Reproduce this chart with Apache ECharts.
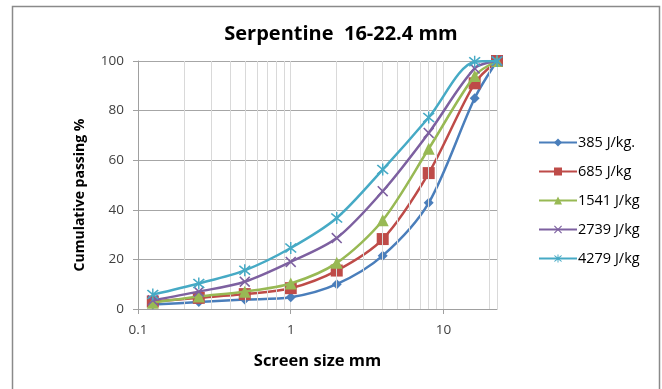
<!DOCTYPE html>
<html><head><meta charset="utf-8">
<script src="https://cdn.jsdelivr.net/npm/echarts@6/dist/echarts.min.js"></script>
<style>html,body{margin:0;padding:0;background:#fff}#c{width:662px;height:389px}</style>
</head><body><div id="c"></div>
<script>
const sizes = [0.125, 0.25, 0.5, 1, 2, 4, 8, 16, 22.4];
const seriesNames = ['385 J/kg.', '685 J/kg', '1541 J/kg', '2739 J/kg', '4279 J/kg'];
const s385 = [1.8, 2.8, 3.8, 4.7, 10, 21.5, 42.8, 85, 100];
const s685 = [3, 4.5, 6, 8.4, 15.5, 28.2, 54.8, 91, 100];
const s1541 = [2.5, 5, 7, 10.3, 18.6, 35.8, 64.6, 94, 100];
const s2739 = [3.5, 7, 11, 19, 28.6, 47.5, 71, 97, 100];
const s4279 = [5.8, 10.3, 15.6, 24.6, 36.7, 56.2, 77.2, 99.7, 100];
const xTicks = [0.1, 1, 10];
const yTicks = [0, 20, 40, 60, 80, 100];
const minorGrid = [0.2, 0.3, 0.4, 0.5, 0.6, 0.7, 0.8, 0.9, 2, 3, 4, 5, 6, 7, 8, 9, 20];

const colors = ['#4A7EBB', '#BE4B48', '#98B954', '#7D60A0', '#46AAC5'];
const crossPath = 'path://M0,1 L1,0 L5,4 L9,0 L10,1 L6,5 L10,9 L9,10 L5,6 L1,10 L0,9 L4,5 Z';
const starPath = 'path://M0,1 L1,0 L5,4 L9,0 L10,1 L6,5 L10,9 L9,10 L5,6 L1,10 L0,9 L4,5 Z M4.4,-1 L5.6,-1 L5.6,11 L4.4,11 Z';
const symbols = ['diamond', 'rect', 'triangle', crossPath, starPath];
const symSizes = [10, 12, 12, 11, 12];
const allData = [s385, s685, s1541, s2739, s4279];

const font = '"Open Sans", Lato, sans-serif';
const series = allData.map((vals, i) => ({
  name: seriesNames[i],
  type: 'line',
  data: vals.map((v, j) => [sizes[j], v]),
  smooth: 0.3,
  symbol: symbols[i],
  symbolSize: symSizes[i],
  showAllSymbol: true,
  lineStyle: { color: colors[i], width: 2.5 },
  itemStyle: { color: colors[i] },
  z: 3 + i
}));
series.unshift({
  type: 'line', data: [], silent: true, z: 1,
  markLine: {
    silent: true, symbol: 'none', label: { show: false },
    lineStyle: { color: '#d9d9d9', width: 1, type: 'solid' },
    data: minorGrid.map(v => ({ xAxis: v }))
  }
});

const chart = echarts.init(document.getElementById('c'), null, { renderer: 'canvas' });
chart.setOption({
  animation: false,
  backgroundColor: '#fff',
  title: {
    text: 'Serpentine  16-22.4 mm', left: 336, top: 19, textAlign: 'center',
    textStyle: { fontFamily: font, fontSize: 20, fontWeight: 'bold', color: '#000' }
  },
  graphic: [{
    type: 'rect', shape: { x: 12.5, y: 6.5, width: 647, height: 400 },
    style: { fill: 'none', stroke: '#8a8a8a', lineWidth: 1.5 }, silent: true
  }, {
    type: 'text', x: 80, y: 195, rotation: Math.PI / 2, silent: true,
    style: { text: 'Cumulative passing %', fontFamily: font, fontSize: 14, fontWeight: 'bold', fill: '#000', align: 'center', verticalAlign: 'middle' }
  }],
  grid: { left: 138, right: 165, top: 61, bottom: 80 },
  legend: {
    orient: 'vertical', left: 533, top: 130, itemWidth: 38, itemHeight: 10, itemGap: 14,
    data: seriesNames,
    textStyle: { fontFamily: font, fontSize: 14.5, color: '#000', padding: [0, 0, 0, -4] }
  },
  xAxis: {
    type: 'log', logBase: 10, min: 0.1, max: 22.4,
    name: 'Screen size mm', nameLocation: 'middle', nameGap: 44,
    nameTextStyle: { fontFamily: font, fontSize: 16.5, fontWeight: 'bold', color: '#000' },
    axisLine: { lineStyle: { color: '#a0a0a0', width: 1 } },
    axisTick: { show: true, length: 5, lineStyle: { color: '#a0a0a0' } },
    axisLabel: {
      fontFamily: font, fontSize: 13.5, color: '#404040', margin: 14, showMaxLabel: false,
      formatter: v => { const t = xTicks.find(x => Math.abs(x - v) < 1e-9 * Math.max(1, v)); return t === undefined ? '' : String(t); }
    },
    splitLine: { show: true, lineStyle: { color: '#d9d9d9', width: 1 } }
  },
  yAxis: {
    type: 'value', min: yTicks[0], max: yTicks[yTicks.length - 1], interval: 20,
    axisLine: { show: true, lineStyle: { color: '#a0a0a0', width: 1 } },
    axisTick: { show: true, length: 5, lineStyle: { color: '#a0a0a0' } },
    axisLabel: { fontFamily: font, fontSize: 13.5, color: '#404040', margin: 14 },
    splitLine: { show: true, lineStyle: { color: '#a6a6a6', width: 1 } }
  },
  series: series
});
</script></body></html>
